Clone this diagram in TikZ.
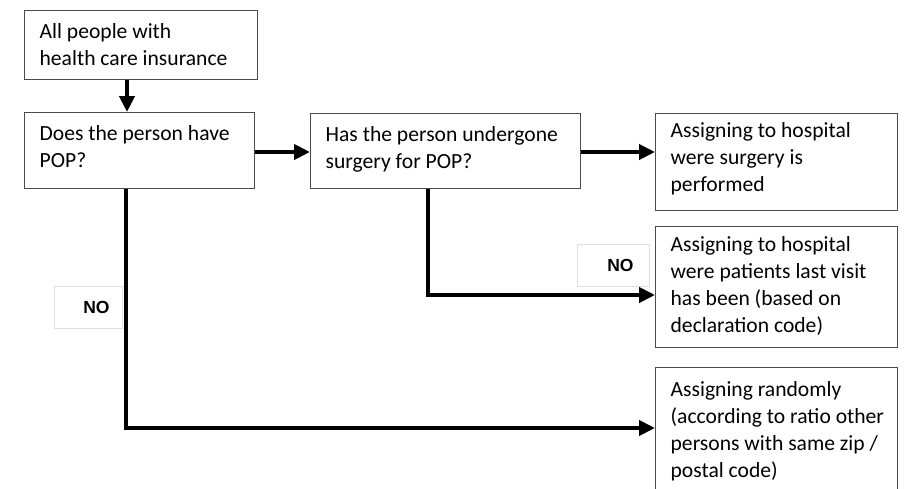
\documentclass[tikz,border=0pt]{standalone}
\usepackage{fontspec}
\setmainfont{Carlito}
\newfontfamily\nofont{Liberation Sans}
\usetikzlibrary{calc,arrows.meta}
\tikzset{
  flowbox/.style={draw=black!70, line width=1.3pt, anchor=north west, align=flush left,
    inner xsep=15pt, inner ysep=6pt, font=\fontsize{21.6}{27}\selectfont},
  tb/.style 2 args={text height=#1pt, text depth=#2pt},
  arr/.style={line width=4.8pt, -{Triangle[length=16pt,width=15pt]}},
  nolabel/.style={draw=black!12, line width=0.8pt, fill=white, font=\nofont\bfseries\fontsize{17.5}{20}\selectfont}
}
\begin{document}
\begin{tikzpicture}[x=1pt,y=-1pt]
\clip (0,0) rectangle (905,488);
\fill[white] (0,0) rectangle (905,488);
\node[flowbox, tb={22}{35}, minimum width=233pt, text width=203pt] (A) at (24,10) {All people with\\health care insurance};
\node[flowbox, tb={22}{42}, minimum width=230pt, text width=200pt] (B) at (24,112) {Does the person have\\POP?};
\node[flowbox, tb={22}{41}, minimum width=270pt, text width=240pt] (C) at (310,113) {Has the person undergone\\surgery for POP?};
\node[flowbox, tb={18}{67}, minimum width=242pt, text width=212pt] (D) at (655,113) {Assigning to hospital\\were surgery is\\performed};
\node[flowbox, tb={19}{90}, minimum width=242pt, text width=212pt] (E) at (655,226) {Assigning to hospital\\\mbox{were patients last visit}\\has been (based on\\declaration code)};
\node[flowbox, tb={23}{105}, minimum width=242pt, text width=212pt] (F) at (655,367) {Assigning randomly\\\mbox{(according to ratio other}\\\mbox{persons with same zip /}\\postal code)};
\node[nolabel, minimum width=68pt, minimum height=42pt, anchor=north west] (N1) at (54,286) {\hspace*{16pt}NO};
\node[nolabel, minimum width=72pt, minimum height=42pt, anchor=north west] (N2) at (577,244) {\hspace*{14pt}NO};
\draw[arr] ($(A.south west)+(103,0)$) -- ($(B.north west)+(103,0)$);
\draw[arr] (B.east |- 0,152) -- (C.west |- 0,152);
\draw[arr] (C.east |- 0,152) -- (D.west |- 0,152);
\draw[arr] ($(C.south west)+(118,0)$) |- ($(E.north west)+(0,69)$);
\draw[arr] ($(B.south west)+(102,0)$) |- ($(F.north west)+(0,61)$);
\end{tikzpicture}
\end{document}
